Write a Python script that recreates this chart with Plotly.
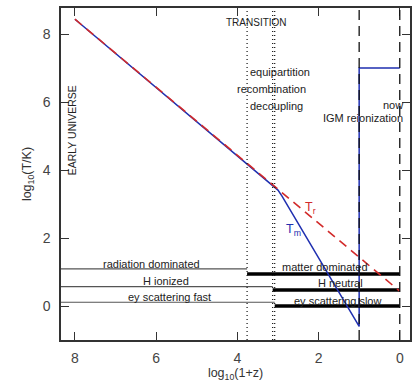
import plotly.graph_objects as go

# ---- data ----
tr_x = [8.0, 0.0]
tr_y = [8.435, 0.435]

tm_x = [8.0, 3.1, 3.0, 2.9, 2.5, 2.0, 1.5, 1.0, 1.0, 0.0]
tm_y = [8.435, 3.535, 3.41, 3.23, 2.42, 1.42, 0.42, -0.6, 7.0, 7.0]

event_x = [3.76, 3.13, 3.08]          # equipartition, recombination, decoupling (dotted)
epoch_x = [1.0, 0.0]                  # reionization, now (dashed)

early_levels = [1.09, 0.57, 0.11]     # thin lines (early phase)
late_levels = [0.94, 0.47, 0.0]       # thick lines (late phase)
early_labels = ["radiation dominated", "H ionized", "ey scattering fast"]
late_labels = ["matter dominated", "H neutral", "ey scattering slow"]
early_label_pos = [(6.11, 1.24), (5.76, 0.74), (5.67, 0.26)]
late_label_pos = [(1.85, 1.15), (1.46, 0.67), (1.54, 0.15)]

event_labels = ["equipartition", "recombination", "decoupling", "now", "IGM reionization"]
event_label_pos = [(2.94, 6.88), (3.15, 6.38), (3.03, 5.88), (0.17, 5.91), (0.90, 5.52)]

x_ticks = [8, 6, 4, 2, 0]
y_ticks = [0, 2, 4, 6, 8]
x_range = [8.343, -0.252]
y_range = [-1.0, 8.765]
x_left = 8.4

BLUE = "#1f2fb0"
RED = "#d22a2a"
TXT = "#222222"
FONT = "Liberation Sans"

fig = go.Figure()

# horizontal phase lines
for lvl, xe in zip(early_levels, event_x):
    fig.add_trace(go.Scatter(x=[x_left, xe], y=[lvl, lvl], mode="lines",
                             line=dict(color="#555555", width=1.2),
                             showlegend=False, hoverinfo="skip"))
for lvl, xs in zip(late_levels, event_x):
    fig.add_trace(go.Scatter(x=[xs, epoch_x[1]], y=[lvl, lvl], mode="lines",
                             line=dict(color="#000000", width=3.5),
                             showlegend=False, hoverinfo="skip"))

# vertical event lines
for xv in event_x:
    fig.add_shape(type="line", xref="x", yref="paper", x0=xv, x1=xv, y0=0, y1=1,
                  line=dict(color="#111111", width=1.2, dash="1px,3px"))

# temperature curves
fig.add_trace(go.Scatter(x=tm_x, y=tm_y, mode="lines",
                         line=dict(color=BLUE, width=1.5),
                         showlegend=False, hoverinfo="skip"))
fig.add_trace(go.Scatter(x=tr_x, y=tr_y, mode="lines",
                         line=dict(color=RED, width=1.6, dash="9px,6px"),
                         showlegend=False, hoverinfo="skip"))

for xv in epoch_x:
    fig.add_shape(type="line", xref="x", yref="paper", x0=xv, x1=xv, y0=0, y1=1,
                  line=dict(color="#111111", width=1.3, dash="10px,6px"))

ann = []
def label(x, y, text, size=11, color=TXT, angle=0, xanchor="center"):
    ann.append(dict(x=x, y=y, xref="x", yref="y", text=text, showarrow=False,
                    font=dict(family=FONT, size=size, color=color),
                    textangle=angle, xanchor=xanchor, yanchor="middle"))

for t, (px, py) in zip(early_labels, early_label_pos):
    label(px, py, t)
for t, (px, py) in zip(late_labels, late_label_pos):
    label(px, py, t)
for t, (px, py) in zip(event_labels, event_label_pos):
    label(px, py, t)

label(3.52, 8.35, "TRANSITION", size=10)
label(8.07, 5.17, "EARLY UNIVERSE", size=10.5, angle=-90)
label(2.20, 2.88, "T<sub>r</sub>", size=12.5, color=RED)
label(2.61, 2.24, "T<sub>m</sub>", size=12.5, color=BLUE)

fig.update_layout(
    width=412, height=384,
    margin=dict(l=61, r=0, t=8, b=44),
    paper_bgcolor="white", plot_bgcolor="white",
    annotations=ann,
    xaxis=dict(range=x_range, tickvals=x_ticks, ticktext=[str(v) for v in x_ticks],
               ticks="inside", ticklen=8, tickcolor="#333333", tickwidth=1.2,
               showline=True, linecolor="#333333", linewidth=1.5, mirror="ticks",
               showgrid=False, zeroline=False,
               tickfont=dict(family=FONT, size=14, color="#444444"),
               ticklabelstandoff=4,
               title=dict(text="log<sub>10</sub>(1+z)", standoff=4,
                          font=dict(family=FONT, size=12.5, color="#333333"))),
    yaxis=dict(range=y_range, tickvals=y_ticks, ticktext=[str(v) for v in y_ticks],
               ticks="inside", ticklen=8, tickcolor="#333333", tickwidth=1.2,
               showline=True, linecolor="#333333", linewidth=1.5, mirror="ticks",
               showgrid=False, zeroline=False,
               tickfont=dict(family=FONT, size=14, color="#444444"),
               ticklabelstandoff=6,
               title=dict(text="log<sub>10</sub>(T/K)", standoff=8,
                          font=dict(family=FONT, size=12.5, color="#333333"))),
)

fig.write_html("out.html", config={"displayModeBar": False},
               post_script="document.body.style.margin='0px';document.body.style.overflow='hidden';")
